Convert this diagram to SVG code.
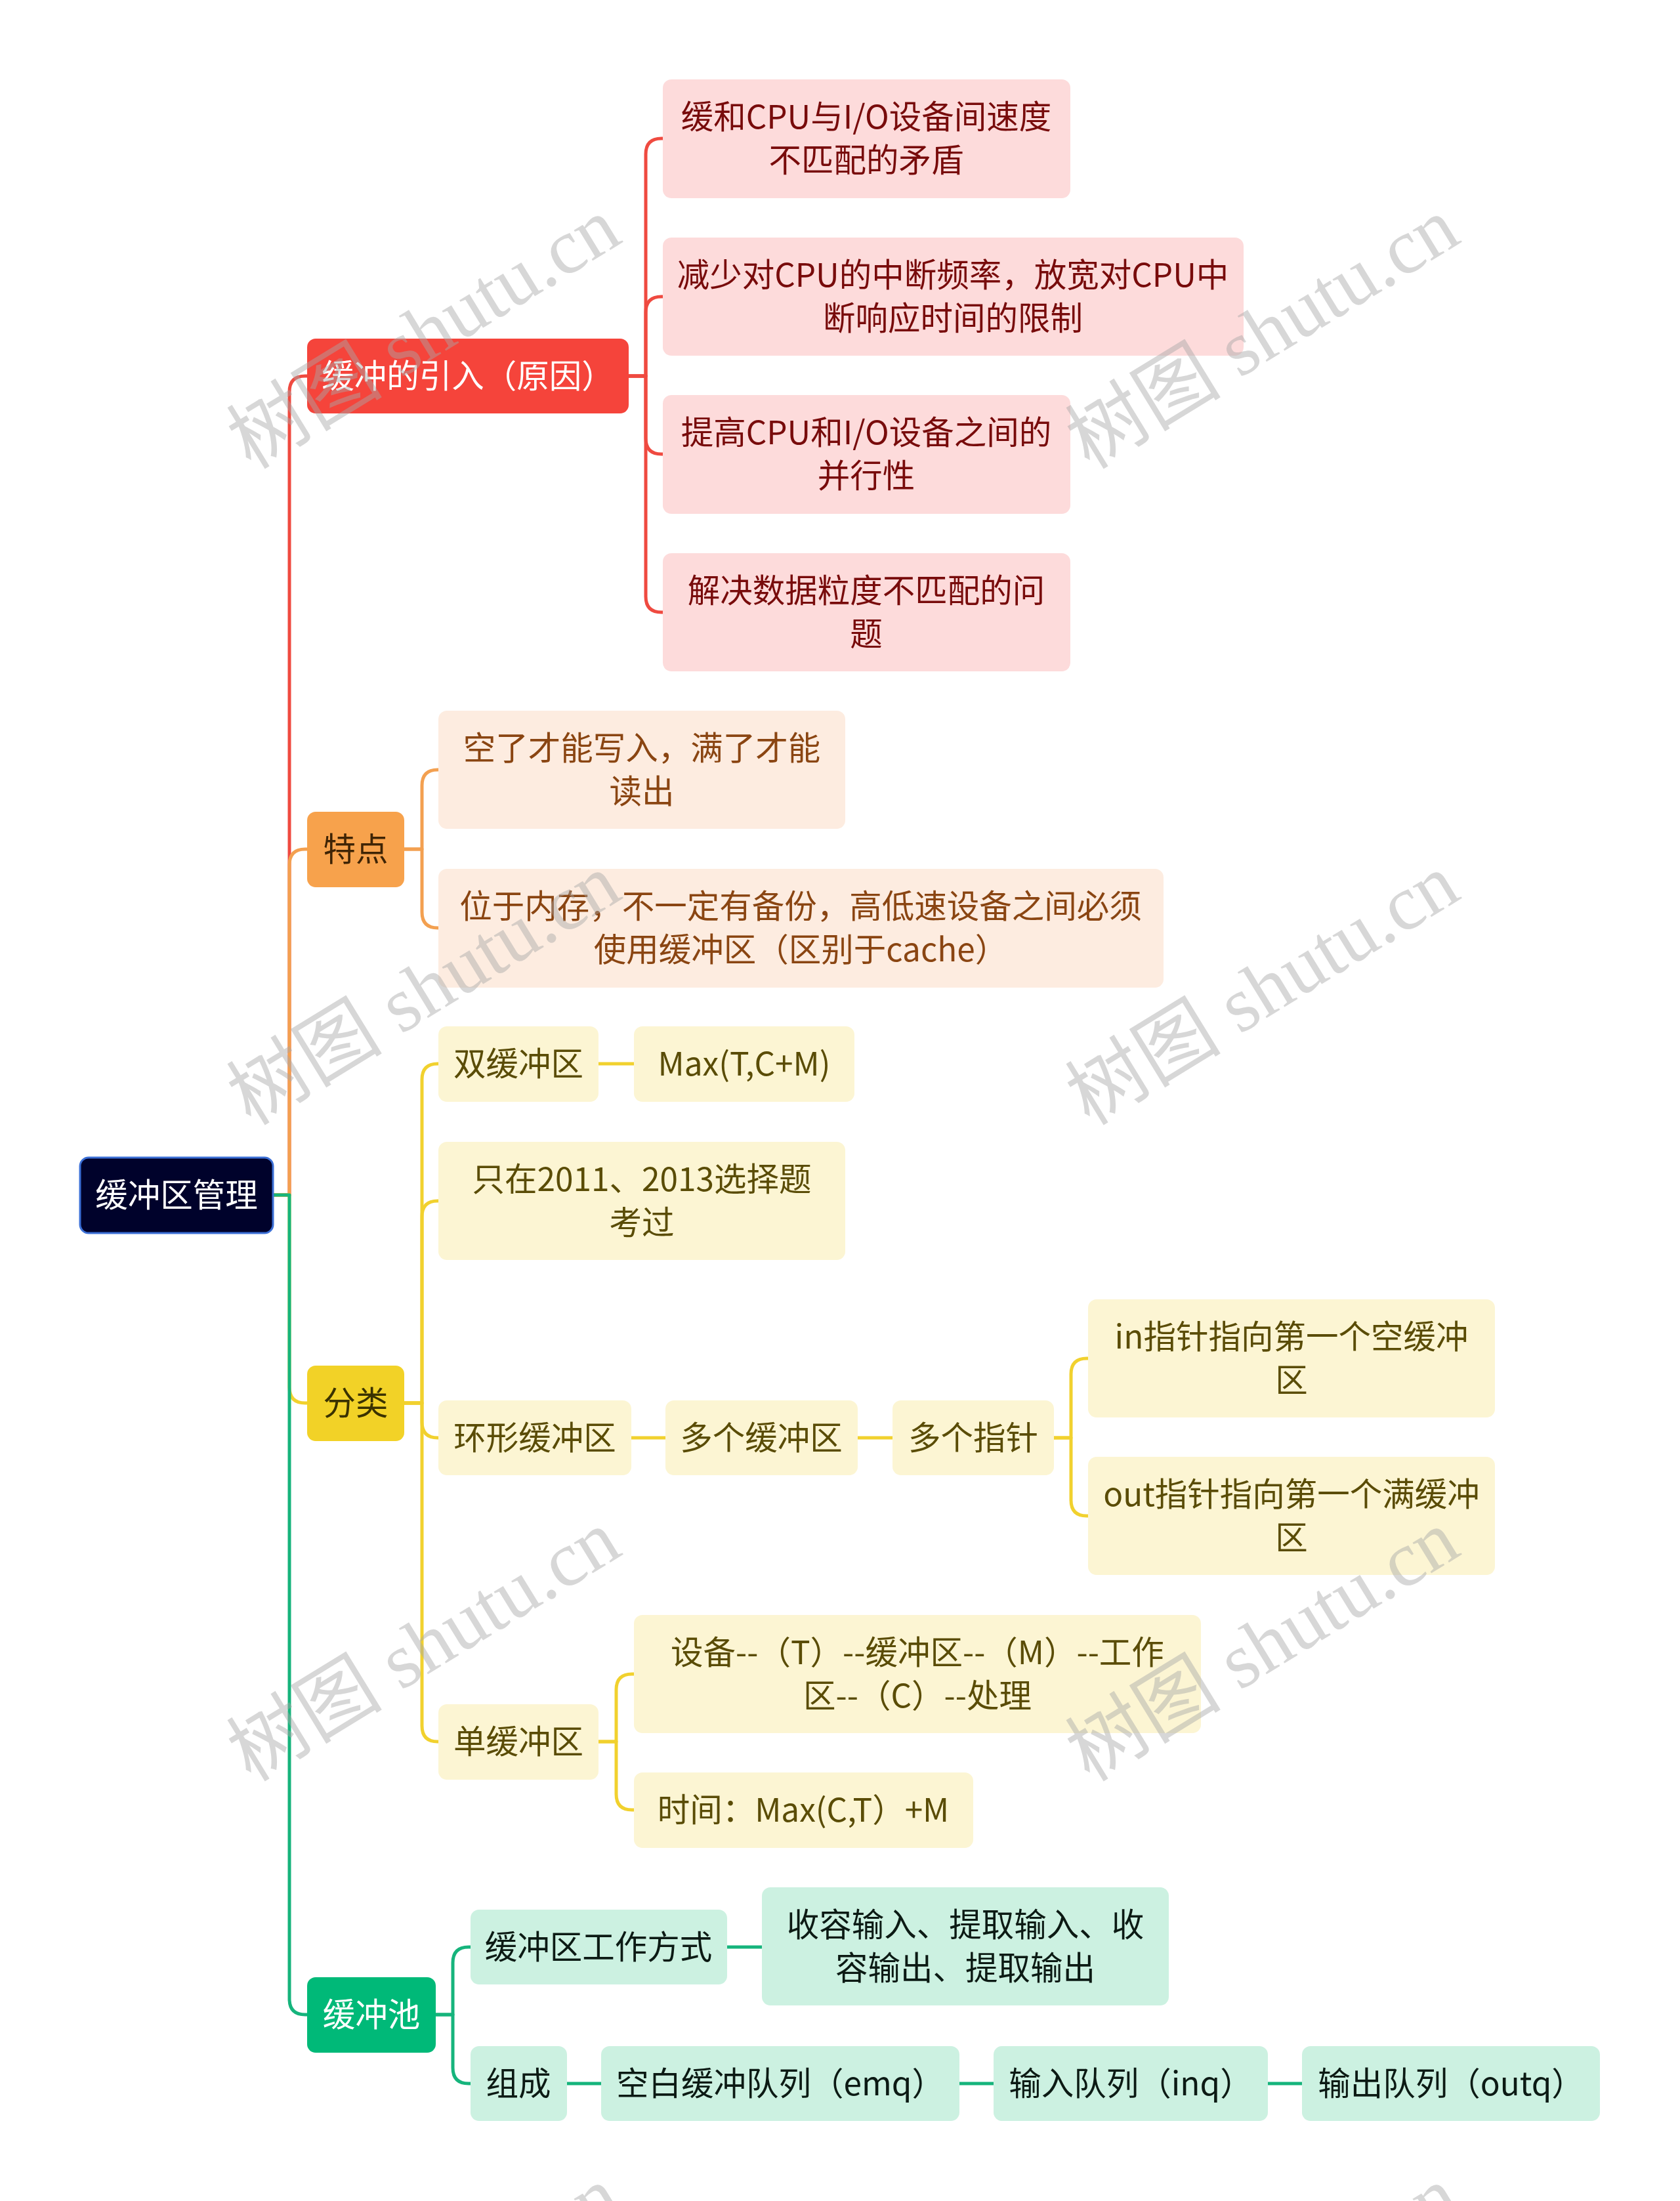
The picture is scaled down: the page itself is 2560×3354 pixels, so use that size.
<svg xmlns="http://www.w3.org/2000/svg" width="2560" height="3354" viewBox="0 0 2560 3354">
<style>
text{font-family:"Noto Sans CJK SC","Noto Sans",sans-serif;font-size:49.5px;text-anchor:middle;dominant-baseline:central}
.c{fill:none;stroke-width:5;stroke-linejoin:round;stroke-linecap:butt}
.cr{stroke:#ef4a40}.co{stroke:#f3a050}.cy{stroke:#f1d12e}.cg{stroke:#16b47c}
.root rect{fill:#00022b;stroke:#3b6fd6;stroke-width:3}
.root text{fill:#ffffff}
.red rect{fill:#f5443b}.red text{fill:#ffffff}
.redc rect{fill:#fddbdb}.redc text{fill:#780b0b}
.org rect{fill:#f7a24c}.org text{fill:#3f2405}
.orgc rect{fill:#fdece0}.orgc text{fill:#8a4512}
.yel rect{fill:#f2d227}.yel text{fill:#3a3200}
.yelc rect{fill:#fcf5d3}.yelc text{fill:#5a4c06}
.grn rect{fill:#00b978}.grn text{fill:#ffffff}
.grnc rect{fill:#ccf1e1}.grnc text{fill:#0c1a14}
.wm{font-family:"Liberation Serif","Noto Sans CJK SC",serif;font-size:119px;fill:#a8a8a8;opacity:0.45}
</style>
<g id="connectors">
<path class="c cr" d="M416,1821 H441 V597 Q441,573 465,573 H468"/>
<path class="c co" d="M416,1821 H441 V1318 Q441,1294 465,1294 H468"/>
<path class="c cy" d="M416,1821 H441 V2114 Q441,2138 465,2138 H468"/>
<path class="c cg" d="M416,1821 H441 V3046 Q441,3070 465,3070 H468"/>
<path class="c cr" d="M958,573 H984 V235 Q984,211 1008,211 H1010"/>
<path class="c cr" d="M958,573 H984 V476 Q984,452 1008,452 H1010"/>
<path class="c cr" d="M958,573 H984 V668 Q984,692 1008,692 H1010"/>
<path class="c cr" d="M958,573 H984 V909 Q984,933 1008,933 H1010"/>
<path class="c co" d="M616,1294 H643 V1197 Q643,1173 667,1173 H668"/>
<path class="c co" d="M616,1294 H643 V1390 Q643,1414 667,1414 H668"/>
<path class="c cy" d="M616,2138 H643 V1645 Q643,1621 667,1621 H668"/>
<path class="c cy" d="M616,2138 H643 V1854 Q643,1830 667,1830 H668"/>
<path class="c cy" d="M616,2138 H643 V2167 Q643,2191 667,2191 H668"/>
<path class="c cy" d="M616,2138 H643 V2630 Q643,2654 667,2654 H668"/>
<path class="c cy" d="M912,1621 H966"/>
<path class="c cy" d="M962,2191 H1014"/>
<path class="c cy" d="M1307,2191 H1360"/>
<path class="c cy" d="M1606,2191 H1632 V2094 Q1632,2070 1656,2070 H1658"/>
<path class="c cy" d="M1606,2191 H1632 V2286 Q1632,2310 1656,2310 H1658"/>
<path class="c cy" d="M912,2654 H939 V2575 Q939,2551 963,2551 H966"/>
<path class="c cy" d="M912,2654 H939 V2734 Q939,2758 963,2758 H966"/>
<path class="c cg" d="M664,3070 H690 V2991 Q690,2967 714,2967 H717"/>
<path class="c cg" d="M664,3070 H690 V3151 Q690,3175 714,3175 H717"/>
<path class="c cg" d="M1108,2967 H1161"/>
<path class="c cg" d="M864,3175 H916"/>
<path class="c cg" d="M1462,3175 H1514"/>
<path class="c cg" d="M1932,3175 H1984"/>
</g>
<g id="root" class="root"><rect x="122" y="1764" width="294" height="115" rx="13"/><text x="269" y="1817">缓冲区管理</text></g>
<g id="n-reason" class="red"><rect x="468" y="516" width="490" height="114" rx="13"/><text x="713" y="569">缓冲的引入（原因）</text></g>
<g id="r1" class="redc"><rect x="1010" y="121" width="621" height="181" rx="13"/><text x="1320" y="174">缓和CPU与I/O设备间速度</text><text x="1320" y="240">不匹配的矛盾</text></g>
<g id="r2" class="redc"><rect x="1010" y="362" width="885" height="180" rx="13"/><text x="1452" y="415">减少对CPU的中断频率，放宽对CPU中</text><text x="1452" y="481">断响应时间的限制</text></g>
<g id="r3" class="redc"><rect x="1010" y="602" width="621" height="181" rx="13"/><text x="1320" y="655">提高CPU和I/O设备之间的</text><text x="1320" y="721">并行性</text></g>
<g id="r4" class="redc"><rect x="1010" y="843" width="621" height="180" rx="13"/><text x="1320" y="896">解决数据粒度不匹配的问</text><text x="1320" y="962">题</text></g>
<g id="n-feature" class="org"><rect x="468" y="1237" width="148" height="115" rx="13"/><text x="542" y="1290">特点</text></g>
<g id="o1" class="orgc"><rect x="668" y="1083" width="620" height="180" rx="13"/><text x="978" y="1136">空了才能写入，满了才能</text><text x="978" y="1202">读出</text></g>
<g id="o2" class="orgc"><rect x="668" y="1324" width="1105" height="181" rx="13"/><text x="1220" y="1377">位于内存，不一定有备份，高低速设备之间必须</text><text x="1220" y="1443">使用缓冲区（区别于cache）</text></g>
<g id="n-class" class="yel"><rect x="468" y="2081" width="148" height="115" rx="13"/><text x="542" y="2134">分类</text></g>
<g id="y-double" class="yelc"><rect x="668" y="1564" width="244" height="115" rx="13"/><text x="790" y="1617">双缓冲区</text></g>
<g id="y-max" class="yelc"><rect x="966" y="1564" width="336" height="115" rx="13"/><text x="1134" y="1617">Max(T,C+M)</text></g>
<g id="y-only" class="yelc"><rect x="668" y="1740" width="620" height="180" rx="13"/><text x="978" y="1793">只在2011、2013选择题</text><text x="978" y="1859">考过</text></g>
<g id="y-ring" class="yelc"><rect x="668" y="2134" width="294" height="114" rx="13"/><text x="815" y="2187">环形缓冲区</text></g>
<g id="y-multibuf" class="yelc"><rect x="1014" y="2134" width="293" height="114" rx="13"/><text x="1160" y="2187">多个缓冲区</text></g>
<g id="y-multiptr" class="yelc"><rect x="1360" y="2134" width="246" height="114" rx="13"/><text x="1483" y="2187">多个指针</text></g>
<g id="y-in" class="yelc"><rect x="1658" y="1980" width="620" height="180" rx="13"/><text x="1968" y="2033">in指针指向第一个空缓冲</text><text x="1968" y="2099">区</text></g>
<g id="y-out" class="yelc"><rect x="1658" y="2220" width="620" height="180" rx="13"/><text x="1968" y="2273">out指针指向第一个满缓冲</text><text x="1968" y="2339">区</text></g>
<g id="y-single" class="yelc"><rect x="668" y="2597" width="244" height="115" rx="13"/><text x="790" y="2650">单缓冲区</text></g>
<g id="y-dev" class="yelc"><rect x="966" y="2461" width="864" height="180" rx="13"/><text x="1398" y="2514">设备--（T）--缓冲区--（M）--工作</text><text x="1398" y="2580">区--（C）--处理</text></g>
<g id="y-time" class="yelc"><rect x="966" y="2701" width="517" height="115" rx="13"/><text x="1224" y="2754">时间：Max(C,T）+M</text></g>
<g id="n-pool" class="grn"><rect x="468" y="3013" width="196" height="115" rx="13"/><text x="566" y="3066">缓冲池</text></g>
<g id="g-mode" class="grnc"><rect x="717" y="2910" width="391" height="114" rx="13"/><text x="912" y="2963">缓冲区工作方式</text></g>
<g id="g-io" class="grnc"><rect x="1161" y="2876" width="620" height="180" rx="13"/><text x="1471" y="2929">收容输入、提取输入、收</text><text x="1471" y="2995">容输出、提取输出</text></g>
<g id="g-comp" class="grnc"><rect x="717" y="3118" width="147" height="114" rx="13"/><text x="790" y="3171">组成</text></g>
<g id="g-emq" class="grnc"><rect x="916" y="3118" width="546" height="114" rx="13"/><text x="1189" y="3171">空白缓冲队列（emq）</text></g>
<g id="g-inq" class="grnc"><rect x="1514" y="3118" width="418" height="114" rx="13"/><text x="1723" y="3171">输入队列（inq）</text></g>
<g id="g-outq" class="grnc"><rect x="1984" y="3118" width="454" height="114" rx="13"/><text x="2211" y="3171">输出队列（outq）</text></g>
<g id="watermarks">
<text class="wm" transform="translate(646,508) rotate(-31.5)">树图 shutu.cn</text>
<text class="wm" transform="translate(1924,508) rotate(-31.5)">树图 shutu.cn</text>
<text class="wm" transform="translate(646,1508) rotate(-31.5)">树图 shutu.cn</text>
<text class="wm" transform="translate(1924,1508) rotate(-31.5)">树图 shutu.cn</text>
<text class="wm" transform="translate(646,2508) rotate(-31.5)">树图 shutu.cn</text>
<text class="wm" transform="translate(1924,2508) rotate(-31.5)">树图 shutu.cn</text>
<text class="wm" transform="translate(646,3508) rotate(-31.5)">树图 shutu.cn</text>
<text class="wm" transform="translate(1924,3508) rotate(-31.5)">树图 shutu.cn</text>
</g>
</svg>
